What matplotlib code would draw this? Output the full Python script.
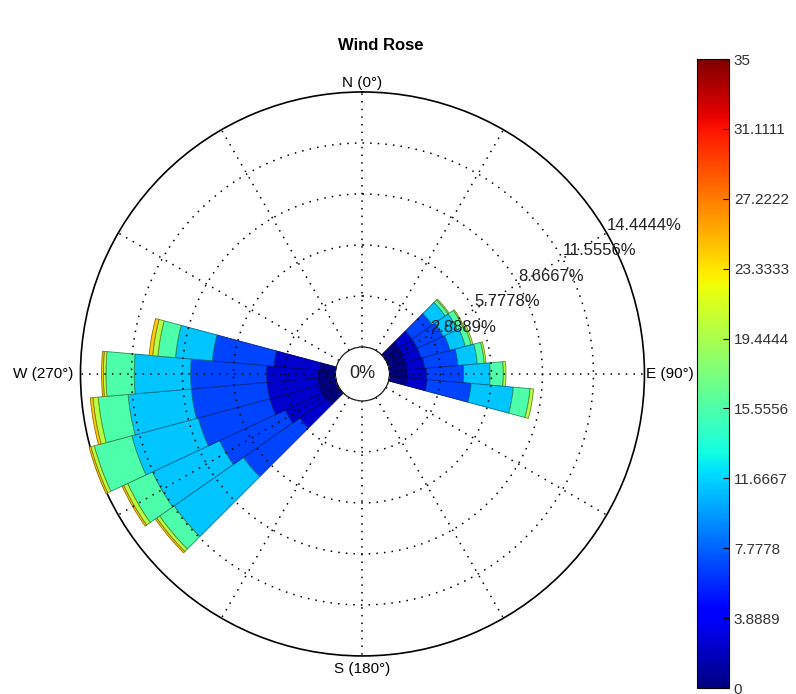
import numpy as np
import matplotlib.pyplot as plt
from matplotlib import cm, colors

plt.rcParams["font.family"] = ["Liberation Sans", "DejaVu Sans"]

# direction bins (deg, clockwise from north), 10 deg wide
dir_centers = [50, 60, 70, 80, 90, 100, 230, 240, 250, 260, 270, 280]

# wind speed bin edges (colorbar ticks)
speed_edges = [0, 3.8889, 7.7778, 11.6667, 15.5556, 19.4444,
               23.3333, 27.2222, 31.1111, 35]
speed_labels = ["0", "3.8889", "7.7778", "11.6667", "15.5556", "19.4444",
                "23.3333", "27.2222", "31.1111", "35"]

# frequency (%) per direction (rows) and speed bin (columns)
freq = [
    [1.0, 0.9, 1.4, 0.9, 0.2, 0.07, 0, 0, 0],     # 50
    [1.0, 0.9, 1.6, 0.9, 0.35, 0.07, 0, 0, 0],    # 60
    [1.0, 0.9, 1.7, 0.9, 0.35, 0.1, 0, 0, 0],     # 70
    [1.0, 1.0, 1.9, 1.1, 0.4, 0.1, 0, 0, 0],      # 80
    [1.0, 1.1, 2.1, 1.5, 0.75, 0.15, 0, 0, 0],    # 90
    [1.0, 1.15, 2.5, 2.4, 0.95, 0.2, 0, 0, 0],    # 100
    [0.9, 1.9, 3.9, 4.8, 1.0, 0.2, 0.1, 0, 0],    # 230
    [1.0, 2.3, 4.1, 4.2, 1.55, 0.25, 0.1, 0, 0],  # 240
    [1.0, 2.9, 4.2, 3.9, 2.2, 0.2, 0.1, 0, 0],    # 250
    [1.0, 2.9, 4.3, 3.6, 1.7, 0.3, 0.15, 0, 0],   # 260
    [1.0, 2.9, 4.3, 3.2, 1.6, 0.15, 0.1, 0, 0],   # 270
    [0.9, 2.6, 3.5, 2.1, 1.0, 0.3, 0.2, 0, 0],    # 280
]

ring_values = [2.8889, 5.7778, 8.6667, 11.5556, 14.4444]
ring_labels = ["2.8889%", "5.7778%", "8.6667%", "11.5556%", "14.4444%"]

rmax = ring_values[-1]
hole = 27 / 51 * ring_values[0]   # empty circle in the middle

fig = plt.figure(figsize=(7.96, 6.94), dpi=100)
ax = fig.add_axes([0.1011, 0.0548, 0.7085, 0.8127], projection="polar")
ax.set_theta_zero_location("N")
ax.set_theta_direction(-1)
ax.set_rorigin(-hole)
ax.set_ylim(0, rmax)

cmap = plt.get_cmap("jet")
norm = colors.Normalize(vmin=0, vmax=35)
nbins = len(speed_edges) - 1

width = np.deg2rad(10)
for d, row in zip(dir_centers, freq):
    bottom = 0
    for i, f in enumerate(row):
        if f <= 0:
            continue
        c = np.array(cmap(max(i / (nbins - 1) - 0.055, 0)))
        edge = c[:3] * 0.55
        ax.bar(np.deg2rad(d), f, width=width, bottom=bottom, color=c,
               edgecolor=edge, linewidth=0.6, zorder=2, clip_on=False)
        bottom += f

# grid
ax.grid(False)
ax.set_xticks([])
ax.set_yticks([])
t = np.linspace(0, 2 * np.pi, 400)
dots = (0, (1, 4))
for rv in ring_values[:-1]:
    ax.plot(t, np.full_like(t, rv), color="black", linestyle=dots,
            linewidth=1.1, zorder=3)
for a in range(0, 360, 30):
    ax.plot([np.deg2rad(a)] * 2, [0, rmax], color="black",
            linestyle=dots, linewidth=1.1, zorder=3)
ax.plot(t, np.zeros_like(t), color="#555555", linestyle=(0, (2, 2)),
        linewidth=1.0, zorder=4)
ax.spines["polar"].set_linewidth(1.2)
ax.spines["polar"].set_color("black")
ax.spines["polar"].set_zorder(1)

ax.text(0, -hole, "0%", ha="center", va="center", fontsize=13, color="#222222",
        zorder=5)
for rv, lab in zip(ring_values, ring_labels):
    ax.text(np.deg2rad(60), rv, lab, ha="left", va="bottom", fontsize=12,
            color="#222222", zorder=5)

ax.text(0, rmax + 0.1, "N (0\u00b0)", ha="center", va="bottom", fontsize=11)
ax.text(np.pi, rmax + 0.35, "S (180\u00b0)", ha="center", va="top", fontsize=11)
ax.text(np.pi / 2, rmax + 0.1, "E (90\u00b0)", ha="left", va="center", fontsize=11)
ax.text(3 * np.pi / 2, rmax + 0.4, "W (270\u00b0)", ha="right", va="center",
        fontsize=11)

fig.text(381 / 796, 1 - 45 / 694, "Wind Rose", ha="center", va="center",
         fontsize=12, fontweight="bold")

cax = fig.add_axes([0.8756, 0.0086, 0.0402, 0.9063])
sm = cm.ScalarMappable(norm=norm, cmap=cmap)
cb = fig.colorbar(sm, cax=cax, ticks=speed_edges)
cb.set_ticklabels(speed_labels)
cb.outline.set_linewidth(0.8)
cax.tick_params(direction="in", length=4, labelsize=11, labelcolor="#333333")

fig.savefig("out.png", dpi=100)
